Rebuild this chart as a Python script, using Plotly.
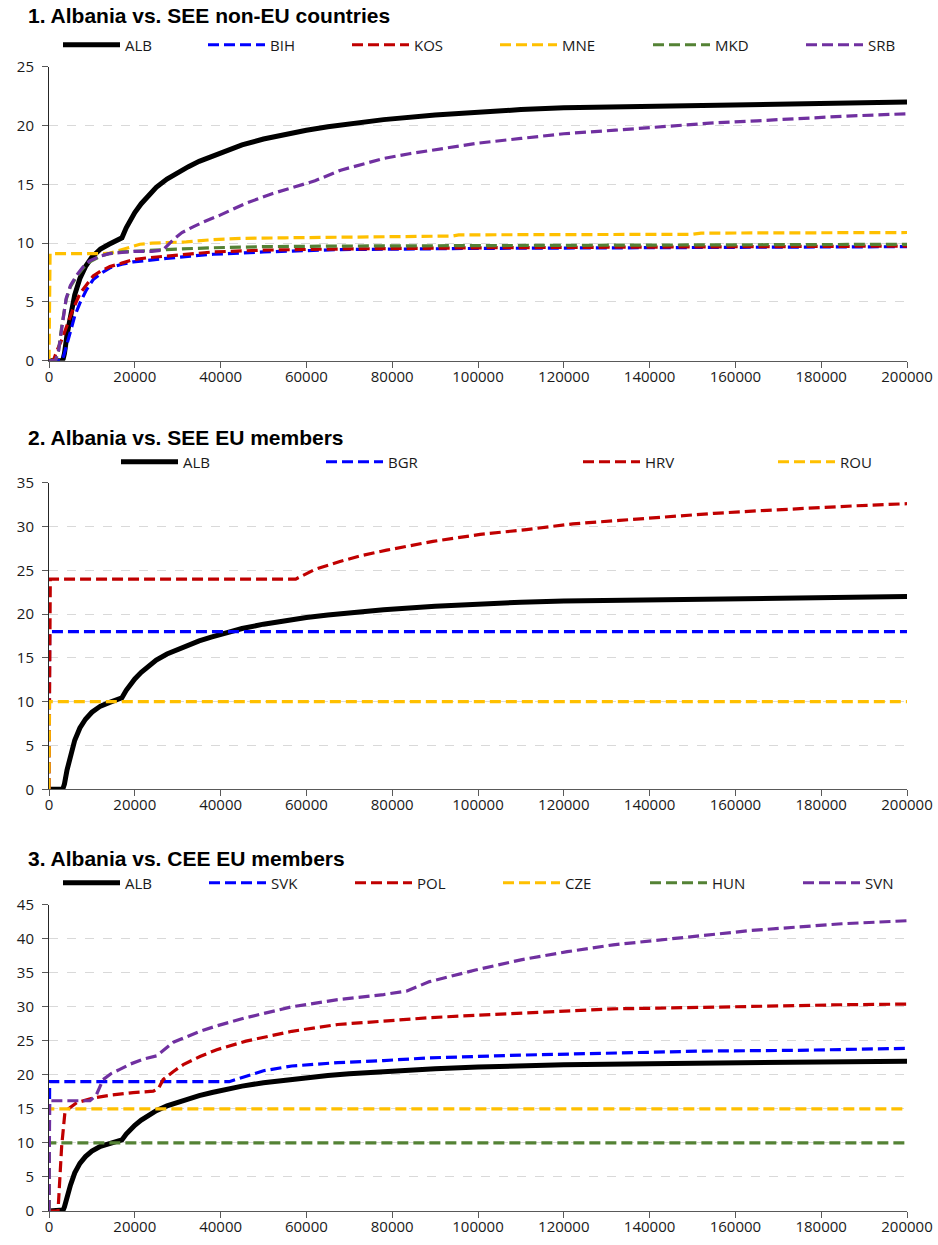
import plotly.graph_objects as go

# ---------------- data ----------------
x_ticks = [0, 20000, 40000, 60000, 80000, 100000, 120000, 140000, 160000, 180000, 200000]
x_tick_labels = ["0", "20000", "40000", "60000", "80000", "100000", "120000", "140000", "160000", "180000", "200000"]
y_ticks_1 = [0, 5, 10, 15, 20, 25]
y_ticks_2 = [0, 5, 10, 15, 20, 25, 30, 35]
y_ticks_3 = [0, 5, 10, 15, 20, 25, 30, 35, 40, 45]

titles = ["1. Albania vs. SEE non-EU countries",
          "2. Albania vs. SEE EU members",
          "3. Albania vs. CEE EU members"]

# ALB (same in every panel)
alb_x = [0, 3000, 3300, 3600, 4200, 5000, 6000, 7200, 8500, 10000, 12000, 14000, 16000, 17000,
         18000, 19000, 20000, 21500, 23000, 25000, 27500, 30000, 32500, 35000, 38000, 41000,
         45000, 50000, 55000, 60000, 65000, 70000, 78000, 90000, 100000, 110000, 120000,
         140000, 160000, 180000, 200000]
alb_y = [0, 0, 0.15, 0.6, 2.2, 3.8, 5.6, 7.0, 8.0, 8.8, 9.5, 9.9, 10.25, 10.45,
         11.3, 12.0, 12.6, 13.35, 14.0, 14.75, 15.45, 16.0, 16.5, 16.95, 17.4, 17.85,
         18.35, 18.85, 19.25, 19.6, 19.9, 20.15, 20.5, 20.9, 21.15, 21.35, 21.5,
         21.65, 21.8, 21.9, 22.0]

# panel 1
bih_x = [0, 3000, 3500, 4000, 4900, 6000, 7200, 8700, 10300, 12000, 14200, 17000, 19600,
         23000, 27400, 33000, 38300, 50000, 68000, 100000, 140000, 200000]
bih_y = [0, 0, 0.5, 1.2, 2.3, 3.8, 4.9, 6.0, 6.9, 7.4, 7.9, 8.2, 8.4,
         8.55, 8.7, 8.9, 9.05, 9.25, 9.45, 9.55, 9.6, 9.7]
kos_x = [0, 1000, 1800, 3000, 4100, 5500, 7200, 9000, 10300, 12000, 14200, 17000, 19600,
         23000, 27400, 33000, 38300, 50000, 68000, 100000, 140000, 200000]
kos_y = [0, 0, 0.8, 1.8, 2.9, 4.3, 5.7, 6.6, 7.2, 7.6, 8.0, 8.3, 8.6,
         8.75, 8.9, 9.1, 9.25, 9.4, 9.5, 9.6, 9.65, 9.75]
mne_x = [0, 250, 12000, 14200, 16500, 19000, 21200, 24000, 27400, 32000, 38300, 45000,
         55000, 67600, 80000, 94000, 95500, 120000, 150000, 152000, 200000]
mne_y = [0, 9.1, 9.1, 9.15, 9.4, 9.7, 9.9, 10.0, 10.05, 10.1, 10.3, 10.4,
         10.45, 10.5, 10.55, 10.6, 10.7, 10.75, 10.75, 10.85, 10.9]
mkd_x = [0, 1500, 2200, 3000, 4000, 5000, 6500, 8000, 9500, 12000, 14000, 17000, 20000,
         27000, 38000, 50000, 68000, 100000, 140000, 200000]
mkd_y = [0, 0, 0.8, 3.0, 5.2, 6.3, 7.2, 7.9, 8.4, 8.9, 9.1, 9.25, 9.3,
         9.45, 9.6, 9.7, 9.75, 9.8, 9.85, 9.9]
srb_x = [0, 1500, 2200, 3000, 4000, 5000, 6500, 8000, 9500, 12000, 14000, 17000, 20000,
         24000, 26500, 29000, 31000, 33700, 36000, 40000, 46000, 52000, 57000, 62000, 68000,
         74000, 78000, 84000, 89000, 95000, 100000, 110000, 120000, 132000, 143000, 154000,
         165000, 175000, 186000, 200000]
srb_y = [0, 0, 0.8, 3.0, 5.3, 6.4, 7.3, 8.0, 8.5, 8.9, 9.1, 9.2, 9.3,
         9.3, 9.4, 10.3, 10.9, 11.4, 11.8, 12.4, 13.4, 14.2, 14.75, 15.3, 16.2,
         16.8, 17.2, 17.6, 17.9, 18.2, 18.5, 18.9, 19.3, 19.6, 19.9, 20.2,
         20.4, 20.6, 20.8, 21.0]

# panel 2
bgr_x = [0, 150, 200000]
bgr_y = [0, 18, 18]
hrv_x = [0, 300, 57500, 62000, 67800, 73000, 78700, 84000, 89500, 95000, 100500, 111300,
         122100, 133000, 143900, 155000, 165700, 176000, 187400, 200000]
hrv_y = [0, 24, 24, 25.1, 26.0, 26.7, 27.3, 27.8, 28.3, 28.7, 29.1, 29.65,
         30.3, 30.7, 31.1, 31.5, 31.8, 32.1, 32.35, 32.6]
rou_x = [0, 100, 200000]
rou_y = [0, 10, 10]

# panel 3
svk_x = [0, 150, 42000, 45900, 50000, 56600, 67300, 78000, 88700, 110000, 131500, 152800,
         174000, 200000]
svk_y = [0, 19, 19, 19.8, 20.6, 21.3, 21.8, 22.1, 22.5, 22.9, 23.2, 23.5, 23.6, 23.9]
pol_x = [0, 2100, 2950, 3700, 4500, 6450, 10300, 14200, 19600, 24300, 25500, 26600, 29000,
         31300, 35200, 39100, 45900, 56600, 67300, 78000, 88700, 99400, 110000, 120800,
         131500, 142100, 163500, 184800, 200000]
pol_y = [0, 0, 9.5, 14.4, 15.0, 15.9, 16.6, 17.0, 17.4, 17.6, 18.0, 19.3, 20.5,
         21.5, 22.7, 23.7, 24.95, 26.4, 27.4, 27.9, 28.4, 28.75, 29.1, 29.4,
         29.7, 29.8, 30.1, 30.3, 30.4]
cze_x = [0, 100, 200000]
cze_y = [0, 15, 15]
hun_x = [0, 100, 200000]
hun_y = [0, 10, 10]
svn_x = [0, 150, 9560, 11000, 12600, 14500, 16500, 19000, 22000, 25100, 29000, 35200, 39100,
         45900, 56600, 67300, 78000, 83300, 88700, 99400, 110000, 120800, 131500, 142100,
         152800, 163500, 174100, 184800, 200000]
svn_y = [0, 16.2, 16.2, 17.0, 19.3, 20.2, 20.8, 21.6, 22.3, 22.8, 24.8, 26.4, 27.2,
         28.4, 30.0, 31.05, 31.8, 32.3, 33.7, 35.4, 36.9, 38.1, 39.1, 39.8,
         40.55, 41.2, 41.7, 42.2, 42.65]

# ---------------- style ----------------
BLACK = "#000000"
BLUE = "#0000FF"
RED = "#C00000"
YELLOW = "#FFC000"
GREEN = "#548235"
PURPLE = "#7030A0"

W, H = 938, 1245
L, R, T, B = 49, 31, 0, 34
PW = W - L - R
PH = H - T - B


def px_x(p):
    return (p - L) / PW


def px_y(p):
    return (H - B - p) / PH


# panel plot-area pixel extents (top, bottom)
panels = [(66.7, 360.7), (482.7, 789.3), (904.7, 1211.0)]
title_y = [15, 437, 858]
legend_y = [45, 462, 883]

# series per panel: (name, x, y, color, dashed, legend-symbol-start px)
series = [
    [("ALB", alb_x, alb_y, BLACK, False, 65), ("BIH", bih_x, bih_y, BLUE, True, 210),
     ("KOS", kos_x, kos_y, RED, True, 354), ("MNE", mne_x, mne_y, YELLOW, True, 502),
     ("MKD", mkd_x, mkd_y, GREEN, True, 655), ("SRB", srb_x, srb_y, PURPLE, True, 808)],
    [("ALB", alb_x, alb_y, BLACK, False, 123), ("BGR", bgr_x, bgr_y, BLUE, True, 328),
     ("HRV", hrv_x, hrv_y, RED, True, 585), ("ROU", rou_x, rou_y, YELLOW, True, 780)],
    [("ALB", alb_x, alb_y, BLACK, False, 65), ("SVK", svk_x, svk_y, BLUE, True, 211),
     ("POL", pol_x, pol_y, RED, True, 357), ("CZE", cze_x, cze_y, YELLOW, True, 505),
     ("HUN", hun_x, hun_y, GREEN, True, 652), ("SVN", svn_x, svn_y, PURPLE, True, 805)],
]
y_ticks = [y_ticks_1, y_ticks_2, y_ticks_3]

TICK_FONT = dict(family="Open Sans", size=15, color="#1a1a1a")
LEG_FONT = dict(family="Open Sans", size=15, color="#1a1a1a")

fig = go.Figure()
layout = dict(
    width=W, height=H,
    margin=dict(l=L, r=R, t=T, b=B, pad=0, autoexpand=False),
    paper_bgcolor="white", plot_bgcolor="white",
    showlegend=True,
    annotations=[],
)

LEG_OFFSET = 7  # pixel correction between legend x and symbol start
leg_idx = 0
for i, (top, bot) in enumerate(panels):
    n = "" if i == 0 else str(i + 1)
    xa = "x" + n
    ya = "y" + n
    for (name, xs, ys, col, dashed, lpx) in series[i]:
        leg_idx += 1
        lname = "legend" if leg_idx == 1 else "legend%d" % leg_idx
        line = dict(color=col, width=5 if not dashed else 3.2)
        if dashed:
            line["dash"] = "11px,5px"
        fig.add_trace(go.Scatter(x=xs, y=ys, mode="lines", name=name, line=line,
                                 xaxis=xa, yaxis=ya, legend=lname, hoverinfo="skip"))
        layout[lname] = dict(
            x=px_x(lpx - LEG_OFFSET), y=px_y(legend_y[i]), xref="paper", yref="paper",
            xanchor="left", yanchor="middle", orientation="h", itemwidth=57,
            font=LEG_FONT, bgcolor="rgba(0,0,0,0)", borderwidth=0,
            itemclick=False, itemdoubleclick=False)
    layout["xaxis" + n] = dict(
        domain=[0, 1], anchor=ya, range=[0, 200000],
        tickmode="array", tickvals=x_ticks, ticktext=x_tick_labels,
        showgrid=False, zeroline=False, showline=True, linecolor="#595959", linewidth=1,
        ticks="outside", ticklen=6, tickcolor="#595959", tickfont=TICK_FONT,
        ticklabelstandoff=-4, fixedrange=True)
    layout["yaxis" + n] = dict(
        domain=[px_y(bot), px_y(top)], anchor=xa, range=[0, y_ticks[i][-1]],
        tickmode="array", tickvals=y_ticks[i], ticktext=[str(v) for v in y_ticks[i]],
        showgrid=True, gridcolor="#D9D9D9", griddash="dash", gridwidth=1,
        zeroline=False, showline=True, linecolor="#262626", linewidth=1,
        ticks="outside", ticklen=6, tickcolor="#595959", tickfont=TICK_FONT,
        ticklabelstandoff=5, fixedrange=True)
    layout["annotations"].append(dict(
        text="<b>%s</b>" % titles[i], x=px_x(26), y=px_y(title_y[i]),
        xref="paper", yref="paper", xanchor="left", yanchor="middle", showarrow=False,
        font=dict(family="Liberation Sans, Arial", size=21, color="#000000")))

fig.update_layout(**layout)
fig.write_html("out.html", config={"displayModeBar": False},
               post_script="document.body.style.margin='0';")
